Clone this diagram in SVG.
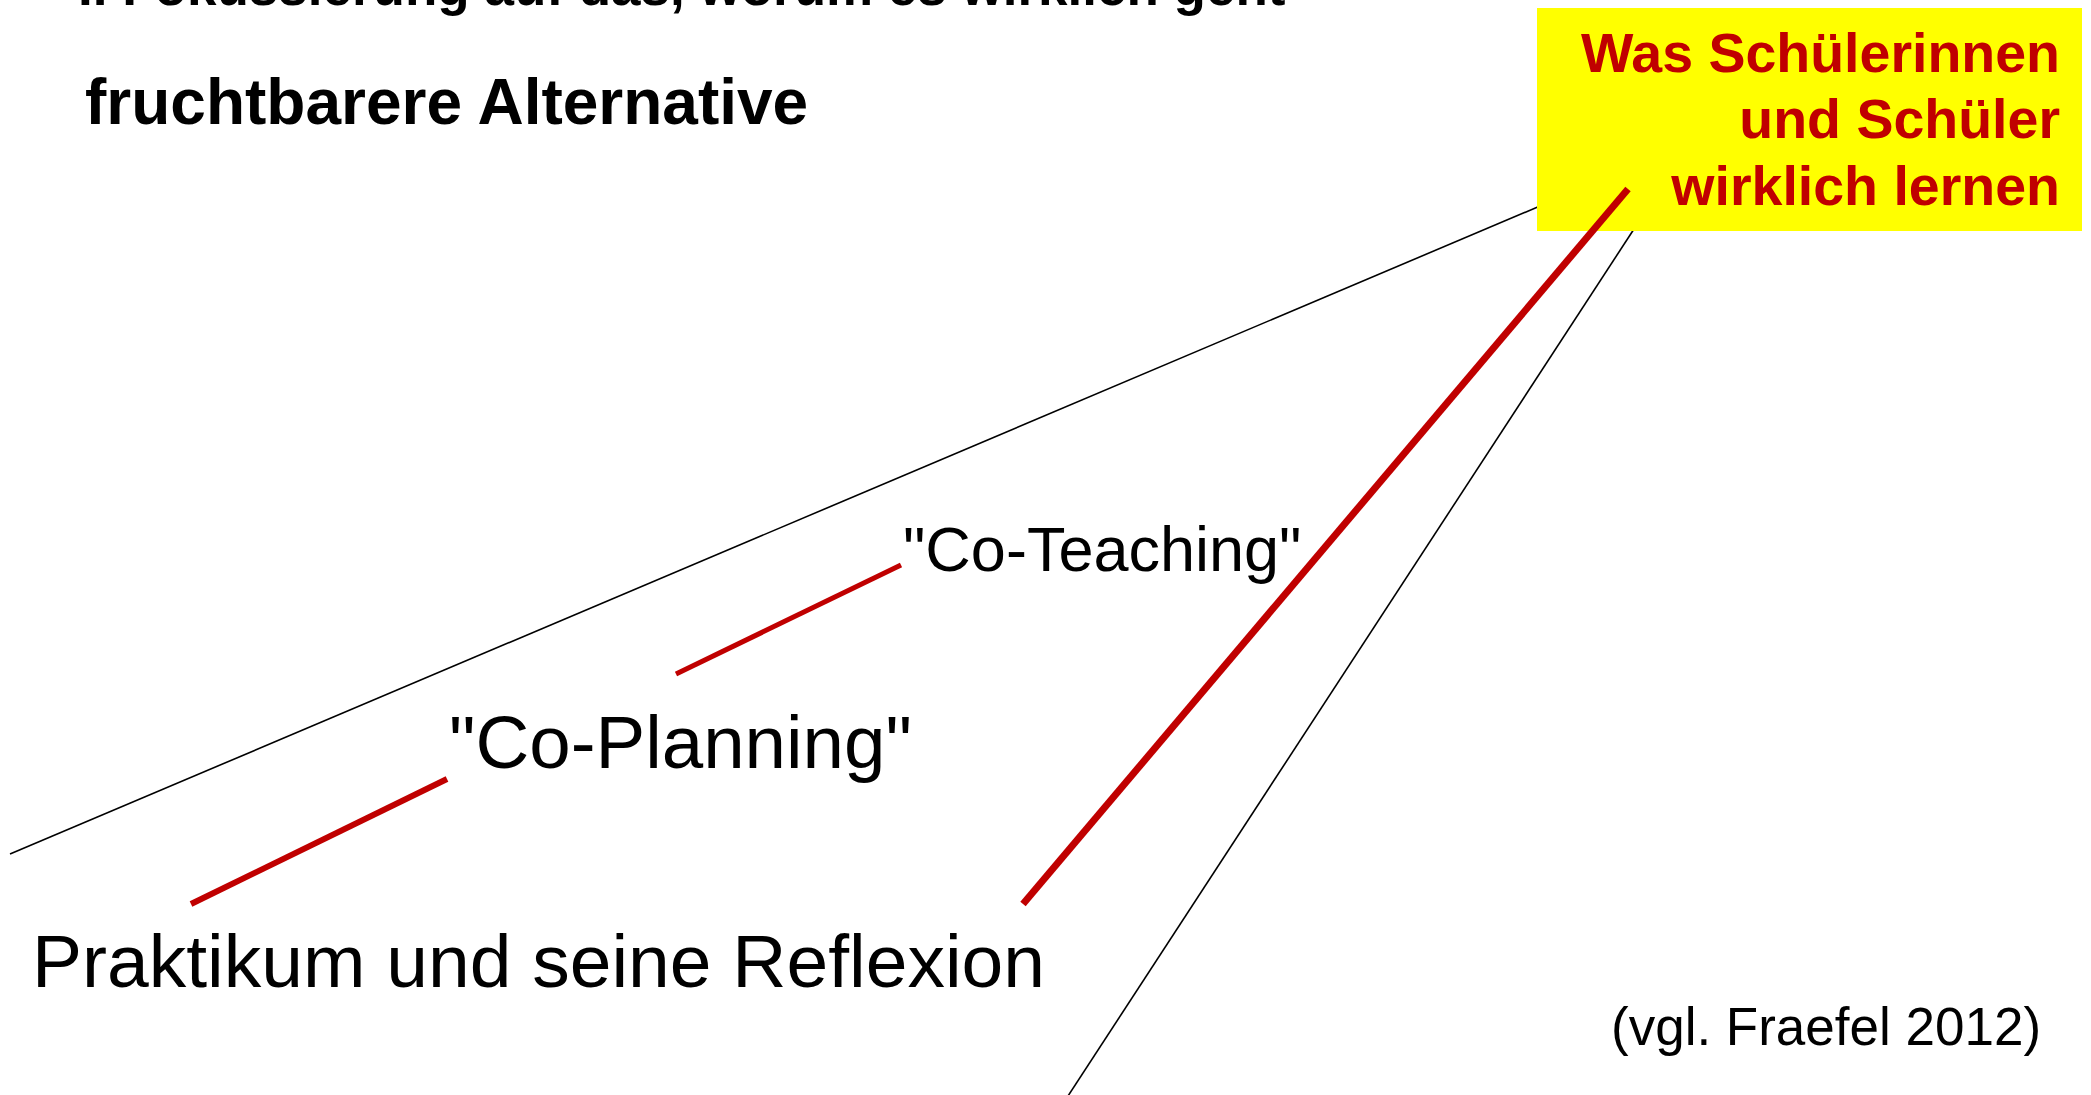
<svg xmlns="http://www.w3.org/2000/svg" width="2091" height="1095" viewBox="0 0 2091 1095">
<style>
.title{font-family:"Liberation Sans",Arial,sans-serif;font-weight:bold;fill:#000}
.lbl{font-family:"Liberation Sans",Arial,sans-serif;fill:#000}
.goal{font-family:"Liberation Sans",Arial,sans-serif;font-weight:bold;font-size:55.5px;fill:#C00000}
.thin{stroke:#000;stroke-width:1.6;fill:none}
.red{stroke:#C00000;fill:none}
</style>
<rect width="2091" height="1095" fill="#fff"/>
<g id="title">
<text class="title" x="78" y="5" font-size="53">I. Fokussierung auf das, worum es wirklich geht</text>
<text class="title" x="85" y="124" font-size="64">fruchtbarere Alternative</text>
</g>
<g id="connectors-black">
<line class="thin" x1="10" y1="854" x2="1540" y2="206"/>
<line class="thin" x1="1634" y1="229" x2="1068" y2="1096"/>
</g>
<g id="goal">
<rect x="1537" y="8" width="545" height="223" fill="#FFFF00"/>
<text class="goal" text-anchor="end" x="2060" y="72">Was Schülerinnen</text>
<text class="goal" text-anchor="end" x="2060" y="138">und Schüler</text>
<text class="goal" text-anchor="end" x="2060" y="205">wirklich lernen</text>
</g>
<g id="connectors">
<line class="red" stroke-width="6" x1="191" y1="904" x2="447" y2="779"/>
<line class="red" stroke-width="5" x1="676" y1="674" x2="901" y2="565"/>
<line class="red" stroke-width="7" x1="1023" y1="904" x2="1628" y2="189"/>
</g>
<g id="praktikum">
<text class="lbl" x="32" y="987" font-size="75">Praktikum und seine Reflexion</text>
</g>
<g id="coplanning">
<text class="lbl" x="449" y="768" font-size="74.5">"Co-Planning"</text>
</g>
<g id="coteaching">
<text class="lbl" x="903" y="571" font-size="63">"Co-Teaching"</text>
</g>
<g id="source">
<text class="lbl" x="1611" y="1045" font-size="53">(vgl. Fraefel 2012)</text>
</g>
</svg>
